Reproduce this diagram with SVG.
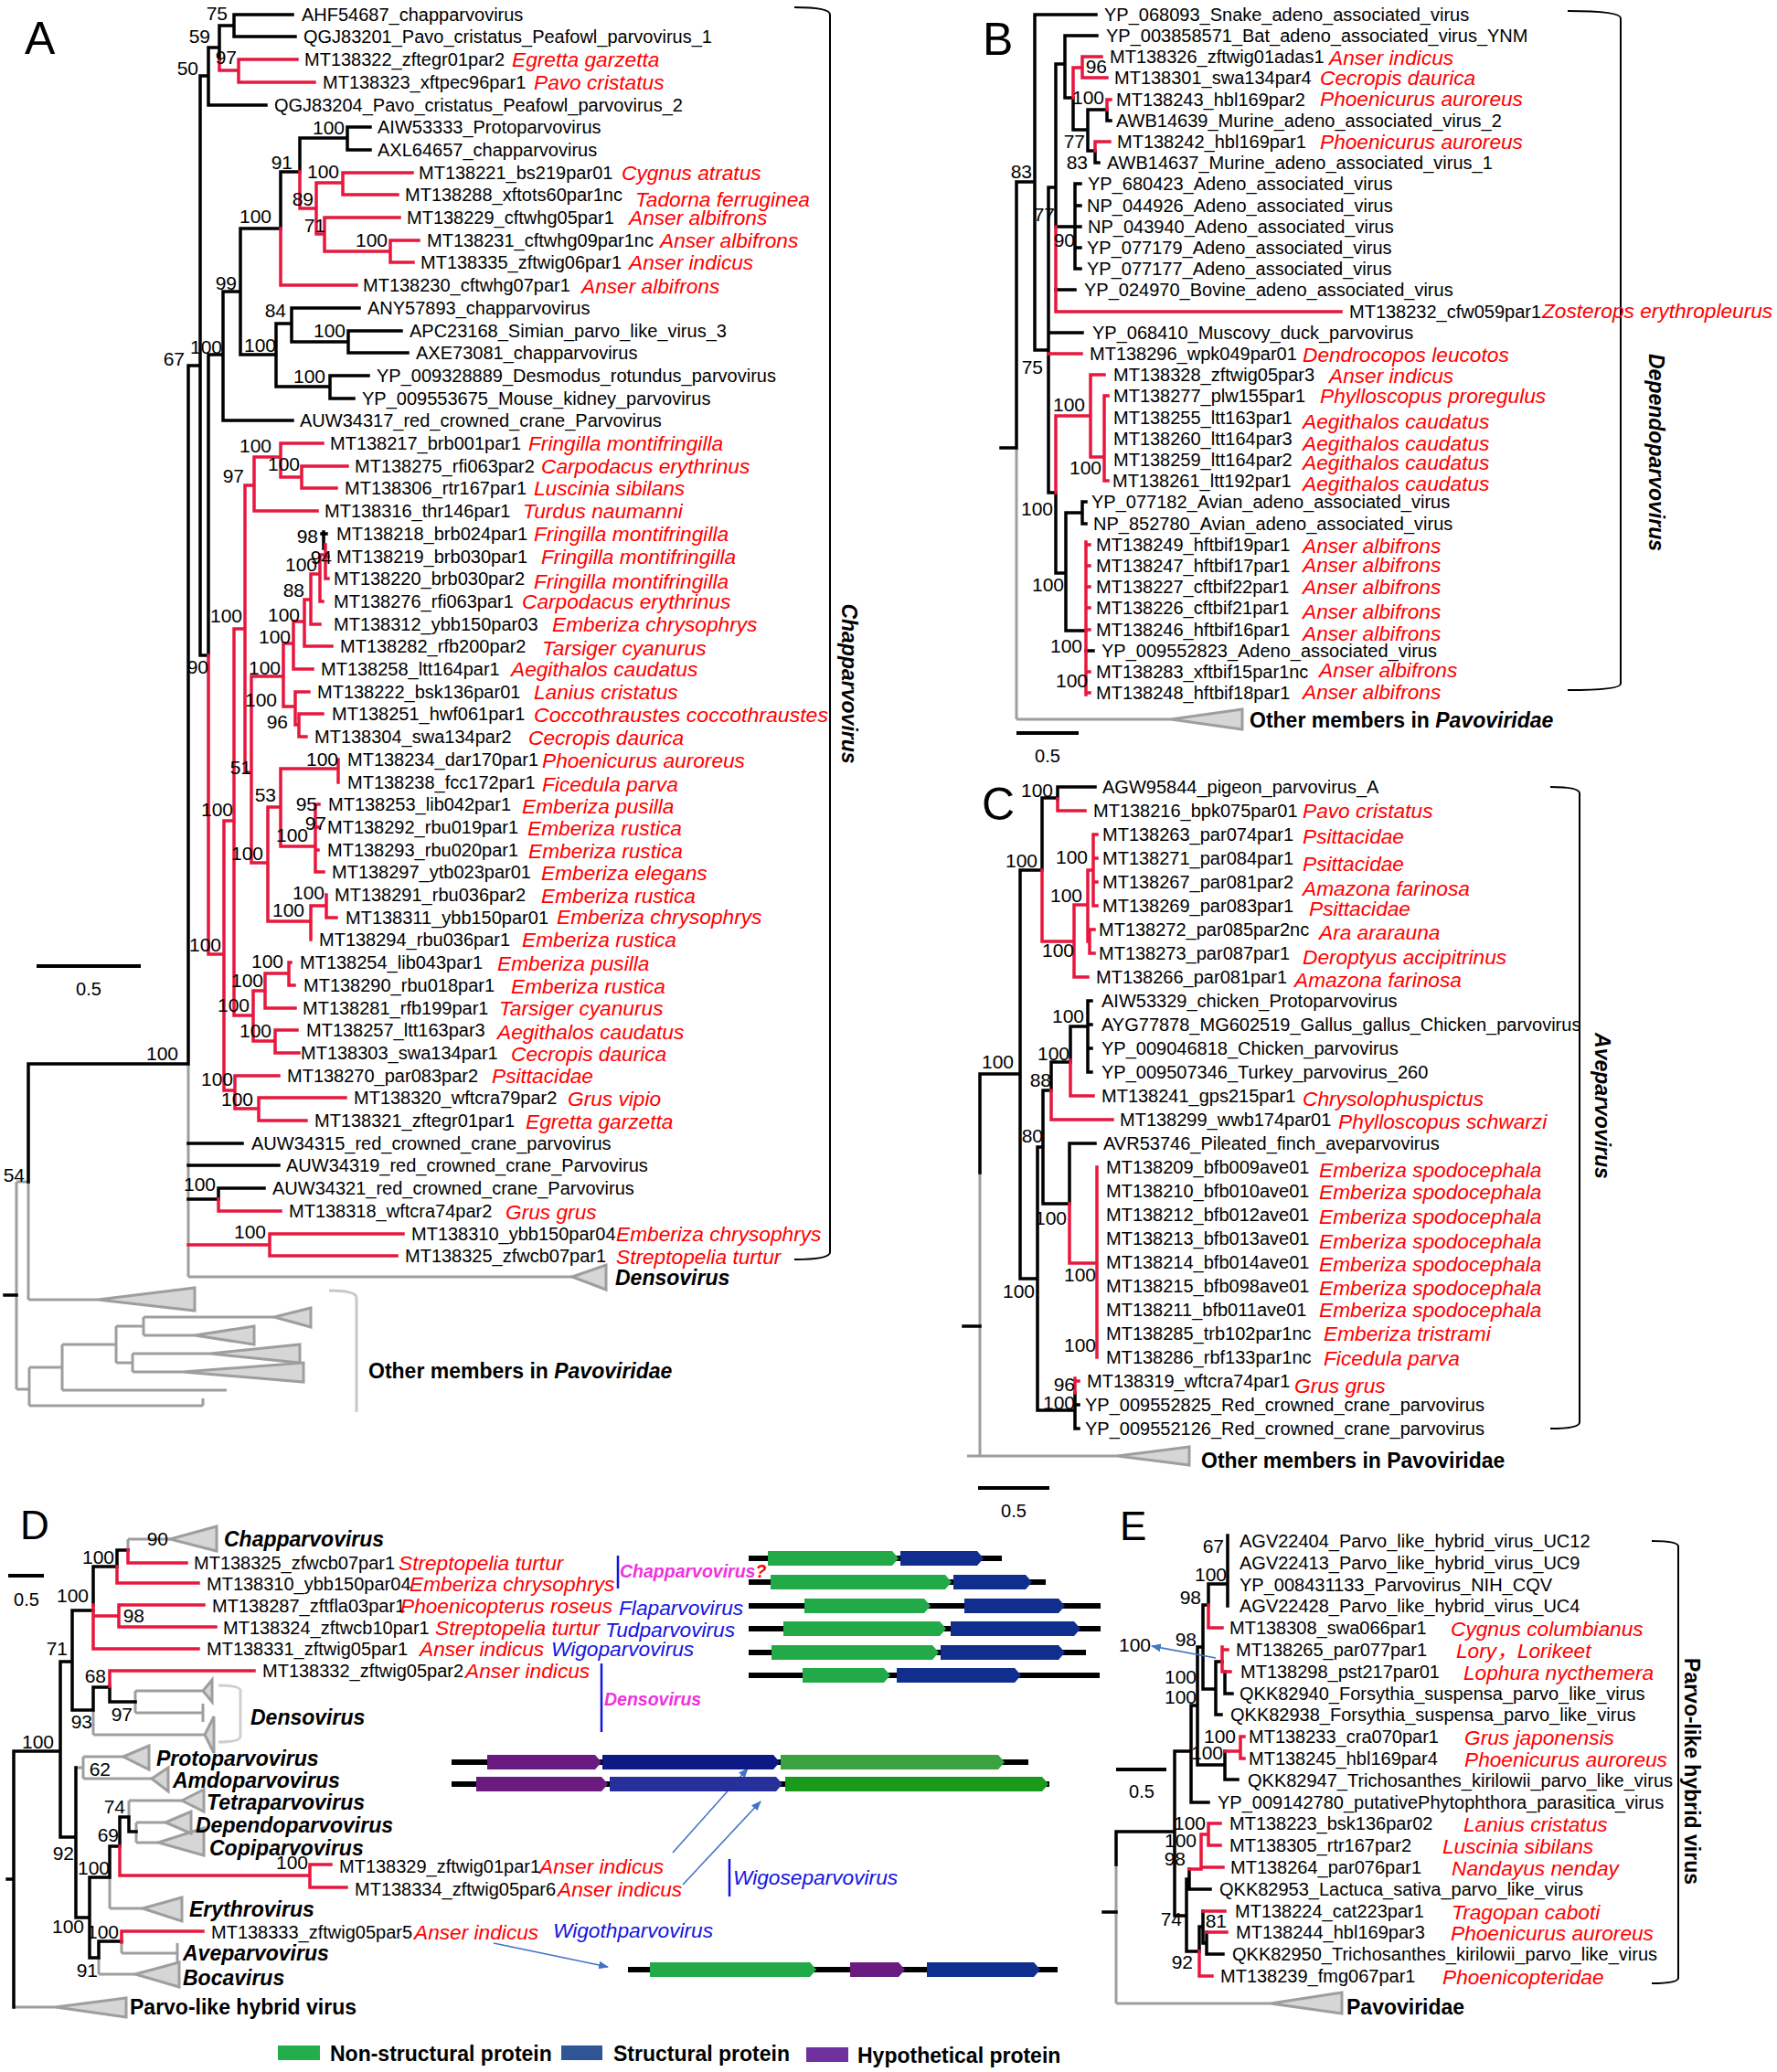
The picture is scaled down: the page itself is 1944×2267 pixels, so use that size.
<svg xmlns="http://www.w3.org/2000/svg" width="1944" height="2267" viewBox="0 0 1944 2267">
<defs>
<style>
text{font-family:'Liberation Sans',Arial,'Noto Sans CJK SC',sans-serif;font-size:20px;fill:#000}
.s{font-style:italic;font-size:22.7px;fill:#f00}
.n{font-size:21px;text-anchor:end}
.hb{font-weight:bold;font-size:23px}
.hi{font-weight:bold;font-style:italic;font-size:23px}
.pl{font-size:50px}
.pl2{font-size:44px}
.bl{font-style:italic;font-size:22.7px;fill:#1414e0}
.mg{font-weight:bold;font-style:italic;font-size:19.5px;fill:#ee33dd}
.sc{text-anchor:middle}
.k{stroke:#000;stroke-width:3.5;fill:none;stroke-linecap:square}
.r{stroke:#e8173e;stroke-width:3.5;fill:none;stroke-linecap:square}
.g{stroke:#9e9e9e;stroke-width:3;fill:none}
.t{fill:#d6d6d6;stroke:#9e9e9e;stroke-width:3}
.br{stroke:#000;stroke-width:2;fill:none}
.gl{stroke:#000;stroke-width:6;fill:none}
.gn{fill:#22aa48}
.bu{fill:#0f2e8e}
.pu{fill:#6b1a80}
.ar{stroke:#4472c4;stroke-width:1.6;fill:none;marker-end:url(#ah)}
.vb{stroke:#1414e0;stroke-width:2.5;fill:none}
</style>
<marker id="ah" viewBox="0 0 10 10" refX="9" refY="5" markerWidth="11" markerHeight="11" markerUnits="userSpaceOnUse" orient="auto"><path d="M0 1L10 5L0 9Z" fill="#4472c4"/></marker>
</defs>
<rect width="1944" height="2267" fill="#fff"/>

<!-- ================= PANEL A ================= -->
<g id="panel-A">
<text class="pl" x="27" y="59">A</text>
<g id="A-connectors">
<path class="g" d="M206 1164V1397M206 1397H626M31 1293V1422M18 1293H31M31 1422H107M18 1293V1520M18 1520H32M32 1496V1538M32 1496H68M68 1471V1521M68 1521H248M68 1471H127M127 1451V1491M127 1451H157M157 1441V1461M157 1441H300M157 1461H213M127 1491H145M145 1481V1501M145 1481H230M145 1501H200M32 1538H222M222 1530V1538"/>
<path class="t" d="M626 1397L663 1384L663 1411ZM107 1422L213 1409L213 1434ZM300 1441L340 1431L340 1452ZM213 1461L278 1451L278 1471ZM230 1481L328 1471L328 1491ZM200 1501L332 1491L332 1512Z"/>
<path class="k" d="M256 16H320M256 40H323M256 16V40M240 28H256M240 28V65M228 52H240M228 52V115M228 115H291M219 83H228M219 83V717M206 400H219M206 400V1164M31 1164H206M228 388V717M219 717H228M228 388H244M244 319V460M244 460H320M244 319H263M263 250V388M263 250H307M307 188V250M307 188H328M328 151V188M328 151H380M380 139V164M380 139H405M380 164H405M263 388H302M302 354V423M302 354H319M319 337V374M319 337H393M319 374H381M381 362V386M381 362H439M381 386H446M302 423H361M361 411V436M361 411H403M361 436H387M206 1251H265M206 1275H305M206 1312H239M239 1300V1312M239 1300H289M31 1164V1293M5 1417H18M354 582V600M352 584H357"/>
<path class="r" d="M240 65V77M240 77H261M261 65V90M261 65H325M261 90H344M307 250V312M307 312H390M328 188V228M328 228H346M346 200V256M346 200H375M375 189V213M375 189H451M375 213H435M346 256H355M355 238V275M355 238H437M355 275H427M427 263V287M427 263H458M427 287H452M228 717V1044M228 1044H245M245 898V1193M245 898H256M256 688V1111M256 688H268M268 531V845M268 531H278M278 500V559M278 500H307M307 485V522M307 485H353M307 522H330M330 510V534M330 510H380M330 534H368M278 559H347M268 845H275M275 740V944M275 740H310M310 704V773M310 704H321M321 680V732M321 732H342M321 680H333M333 656V707M333 707H363M333 656H340M340 628V683M340 683H350M340 628H350M350 607V658M350 658H353M350 607H356M356 596V633M356 609H359M356 633H359M310 773H323M323 757V793M323 757H338M323 793H327M327 781V806M327 781H353M327 806H335M275 944H293M293 883V1008M293 883H307M307 841V926M307 841H370M370 831V856M307 926H345M345 880V954M345 880H349M345 905H348M345 930H348M345 954H354M293 1008H340M340 991V1028M340 991H357M357 979V1004M357 1004H368M256 1111H277M277 1084V1139M277 1084H290M290 1065V1103M290 1103H323M290 1065H316M316 1053V1078M316 1053H318M316 1078H322M277 1139H301M301 1127V1152M301 1127H325M301 1152H327M245 1193H257M257 1177V1213M257 1177H305M257 1213H283M283 1201V1226M283 1201H378M283 1226H335M239 1312V1325M239 1325H307M206 1362H295M295 1350V1374M295 1350H441M295 1374H434"/>
<path class="br" d="M869 8Q908 8 908 16V1370Q908 1378 869 1378"/>
<path d="M360 1412Q390 1412 390 1420V1545" stroke="#c8c8c8" stroke-width="3" fill="none"/>
<path d="M40 1057H154" stroke="#000" stroke-width="4"/>
</g>
<text class="sc" x="97" y="1089">0.5</text>
<g id="A-support">
<text class="n" x="249" y="22">75</text><text class="n" x="230" y="47">59</text><text class="n" x="259" y="70">97</text><text class="n" x="217" y="82">50</text>
<text class="n" x="377" y="147">100</text><text class="n" x="320" y="185">91</text><text class="n" x="371" y="195">100</text><text class="n" x="343" y="225">89</text>
<text class="n" x="297" y="244">100</text><text class="n" x="356" y="254">71</text><text class="n" x="424" y="270">100</text><text class="n" x="259" y="317">99</text>
<text class="n" x="313" y="347">84</text><text class="n" x="378" y="369">100</text><text class="n" x="243" y="387">100</text><text class="n" x="302" y="385">100</text>
<text class="n" x="202" y="400">67</text><text class="n" x="356" y="419">100</text>
<text class="n" x="297" y="495">100</text><text class="n" x="328" y="515">100</text><text class="n" x="267" y="528">97</text><text class="n" x="348" y="594">98</text>
<text class="n" x="363" y="617">94</text><text class="n" x="347" y="625">100</text><text class="n" x="333" y="653">88</text><text class="n" x="328" y="680">100</text>
<text class="n" x="265" y="681">100</text><text class="n" x="318" y="704">100</text><text class="n" x="307" y="738">100</text><text class="n" x="228" y="737">90</text>
<text class="n" x="303" y="773">100</text><text class="n" x="315" y="797">96</text><text class="n" x="370" y="838">100</text><text class="n" x="275" y="847">51</text>
<text class="n" x="302" y="877">53</text><text class="n" x="347" y="887">95</text><text class="n" x="357" y="908">97</text><text class="n" x="255" y="893">100</text>
<text class="n" x="337" y="921">100</text><text class="n" x="288" y="941">100</text><text class="n" x="355" y="984">100</text><text class="n" x="333" y="1003">100</text>
<text class="n" x="242" y="1041">100</text><text class="n" x="310" y="1059">100</text><text class="n" x="288" y="1080">100</text><text class="n" x="273" y="1107">100</text>
<text class="n" x="297" y="1135">100</text><text class="n" x="195" y="1160">100</text><text class="n" x="255" y="1188">100</text><text class="n" x="277" y="1210">100</text>
<text class="n" x="236" y="1303">100</text><text class="n" x="291" y="1355">100</text><text class="n" x="27" y="1293">54</text>
</g>
<g id="A-leaves">
<g id="A0"><text x="330" y="23">AHF54687_chapparvovirus</text></g>
<g id="A1"><text x="332" y="47">QGJ83201_Pavo_cristatus_Peafowl_parvovirus_1</text></g>
<g id="A2"><text x="333" y="72">MT138322_zftegr01par2</text><text class="s" x="560" y="73">Egretta garzetta</text></g>
<g id="A3"><text x="353" y="97">MT138323_xftpec96par1</text><text class="s" x="584" y="98">Pavo cristatus</text></g>
<g id="A4"><text x="300" y="122">QGJ83204_Pavo_cristatus_Peafowl_parvovirus_2</text></g>
<g id="A5"><text x="413" y="146">AIW53333_Protoparvovirus</text></g>
<g id="A6"><text x="413" y="171">AXL64657_chapparvovirus</text></g>
<g id="A7"><text x="458" y="196">MT138221_bs219par01</text><text class="s" x="680" y="197">Cygnus atratus</text></g>
<g id="A8"><text x="443" y="220">MT138288_xftots60par1nc</text><text class="s" x="695" y="226">Tadorna ferruginea</text></g>
<g id="A9"><text x="445" y="245">MT138229_cftwhg05par1</text><text class="s" x="688" y="246">Anser albifrons</text></g>
<g id="A10"><text x="467" y="270">MT138231_cftwhg09par1nc</text><text class="s" x="722" y="271">Anser albifrons</text></g>
<g id="A11"><text x="460" y="294">MT138335_zftwig06par1</text><text class="s" x="688" y="295">Anser indicus</text></g>
<g id="A12"><text x="397" y="319">MT138230_cftwhg07par1</text><text class="s" x="636" y="321">Anser albifrons</text></g>
<g id="A13"><text x="402" y="344">ANY57893_chapparvovirus</text></g>
<g id="A14"><text x="448" y="369">APC23168_Simian_parvo_like_virus_3</text></g>
<g id="A15"><text x="455" y="393">AXE73081_chapparvovirus</text></g>
<g id="A16"><text x="412" y="418">YP_009328889_Desmodus_rotundus_parvovirus</text></g>
<g id="A17"><text x="396" y="443">YP_009553675_Mouse_kidney_parvovirus</text></g>
<g id="A18"><text x="328" y="467">AUW34317_red_crowned_crane_Parvovirus</text></g>
<g id="A19"><text x="361" y="492">MT138217_brb001par1</text><text class="s" x="578" y="493">Fringilla montifringilla</text></g>
<g id="A20"><text x="388" y="517">MT138275_rfi063par2</text><text class="s" x="592" y="518">Carpodacus erythrinus</text></g>
<g id="A21"><text x="377" y="541">MT138306_rtr167par1</text><text class="s" x="584" y="542">Luscinia sibilans</text></g>
<g id="A22"><text x="355" y="566">MT138316_thr146par1</text><text class="s" x="572" y="567">Turdus naumanni</text></g>
<g id="A23"><text x="368" y="591">MT138218_brb024par1</text><text class="s" x="584" y="592">Fringilla montifringilla</text></g>
<g id="A24"><text x="368" y="616">MT138219_brb030par1</text><text class="s" x="592" y="617">Fringilla montifringilla</text></g>
<g id="A25"><text x="365" y="640">MT138220_brb030par2</text><text class="s" x="584" y="644">Fringilla montifringilla</text></g>
<g id="A26"><text x="365" y="665">MT138276_rfi063par1</text><text class="s" x="571" y="666">Carpodacus erythrinus</text></g>
<g id="A27"><text x="365" y="690">MT138312_ybb150par03</text><text class="s" x="604" y="691">Emberiza chrysophrys</text></g>
<g id="A28"><text x="372" y="714">MT138282_rfb200par2</text><text class="s" x="593" y="717">Tarsiger cyanurus</text></g>
<g id="A29"><text x="351" y="739">MT138258_ltt164par1</text><text class="s" x="559" y="740">Aegithalos caudatus</text></g>
<g id="A30"><text x="347" y="764">MT138222_bsk136par01</text><text class="s" x="584" y="765">Lanius cristatus</text></g>
<g id="A31"><text x="363" y="788">MT138251_hwf061par1</text><text class="s" x="584" y="790" textLength="322" lengthAdjust="spacingAndGlyphs">Coccothraustes coccothraustes</text></g>
<g id="A32"><text x="344" y="813">MT138304_swa134par2</text><text class="s" x="578" y="815">Cecropis daurica</text></g>
<g id="A33"><text x="380" y="838">MT138234_dar170par1</text><text class="s" x="593" y="840">Phoenicurus auroreus</text></g>
<g id="A34"><text x="380" y="863">MT138238_fcc172par1</text><text class="s" x="593" y="866">Ficedula parva</text></g>
<g id="A35"><text x="359" y="887">MT138253_lib042par1</text><text class="s" x="571" y="890">Emberiza pusilla</text></g>
<g id="A36"><text x="358" y="912">MT138292_rbu019par1</text><text class="s" x="577" y="914">Emberiza rustica</text></g>
<g id="A37"><text x="358" y="937">MT138293_rbu020par1</text><text class="s" x="578" y="939">Emberiza rustica</text></g>
<g id="A38"><text x="363" y="961">MT138297_ytb023par01</text><text class="s" x="592" y="963">Emberiza elegans</text></g>
<g id="A39"><text x="366" y="986">MT138291_rbu036par2</text><text class="s" x="592" y="988">Emberiza rustica</text></g>
<g id="A40"><text x="378" y="1011">MT138311_ybb150par01</text><text class="s" x="609" y="1011">Emberiza chrysophrys</text></g>
<g id="A41"><text x="349" y="1035">MT138294_rbu036par1</text><text class="s" x="571" y="1036">Emberiza rustica</text></g>
<g id="A42"><text x="328" y="1060">MT138254_lib043par1</text><text class="s" x="544" y="1062">Emberiza pusilla</text></g>
<g id="A43"><text x="332" y="1085">MT138290_rbu018par1</text><text class="s" x="559" y="1087">Emberiza rustica</text></g>
<g id="A44"><text x="331" y="1110">MT138281_rfb199par1</text><text class="s" x="546" y="1111">Tarsiger cyanurus</text></g>
<g id="A45"><text x="335" y="1134">MT138257_ltt163par3</text><text class="s" x="544" y="1137">Aegithalos caudatus</text></g>
<g id="A46"><text x="329" y="1159">MT138303_swa134par1</text><text class="s" x="559" y="1161">Cecropis daurica</text></g>
<g id="A47"><text x="314" y="1184">MT138270_par083par2</text><text class="s" x="538" y="1185">Psittacidae</text></g>
<g id="A48"><text x="387" y="1208">MT138320_wftcra79par2</text><text class="s" x="621" y="1210">Grus vipio</text></g>
<g id="A49"><text x="344" y="1233">MT138321_zftegr01par1</text><text class="s" x="575" y="1235">Egretta garzetta</text></g>
<g id="A50"><text x="275" y="1258">AUW34315_red_crowned_crane_parvovirus</text></g>
<g id="A51"><text x="313" y="1282">AUW34319_red_crowned_crane_Parvovirus</text></g>
<g id="A52"><text x="298" y="1307">AUW34321_red_crowned_crane_Parvovirus</text></g>
<g id="A53"><text x="316" y="1332">MT138318_wftcra74par2</text><text class="s" x="553" y="1334">Grus grus</text></g>
<g id="A54"><text x="450" y="1357">MT138310_ybb150par04</text><text class="s" x="674" y="1358">Emberiza chrysophrys</text></g>
<g id="A55"><text x="443" y="1381">MT138325_zfwcb07par1</text><text class="s" x="674" y="1383">Streptopelia turtur</text></g>
<g id="A-denso"><text class="hi" x="673" y="1406">Densovirus</text></g>
<g id="A-other"><text class="hb" x="403" y="1508">Other members in <tspan font-style="italic">Pavoviridae</tspan></text></g>
<g id="A-clade"><text class="hi sc" transform="translate(921,748) rotate(90)">Chapparvovirus</text></g>
</g>
</g>

<!-- ================= PANEL B ================= -->
<g id="panel-B">
<text class="pl" x="1075" y="60">B</text>
<g id="B-connectors">
<path class="g" d="M1112 490V787M1112 787H1281"/>
<path class="t" d="M1281 787L1359 776L1359 798Z"/>
<path class="k" d="M1095 490H1112M1112 199V490M1112 199H1132M1132 16V383M1132 16H1199M1132 383H1147M1147 205V539M1147 205H1155M1155 70V248M1155 70H1165M1165 39V107M1165 39H1200M1165 107H1174M1174 107V142M1174 142H1190M1190 120V165M1190 120H1211M1211 120V132M1211 132H1215M1190 165H1198M1198 165V178M1198 178H1202M1155 248H1176M1176 201V294M1176 201H1182M1176 225H1182M1176 248H1182M1176 271H1182M1176 294H1182M1155 317H1176M1147 364H1184M1147 539H1155M1155 539V627M1155 627H1166M1166 561V690M1166 561H1184M1184 549V573M1184 549H1188M1184 573H1188M1166 690H1188M1188 712H1196"/>
<path class="r" d="M1155 248V341M1155 341H1467M1174 74V107M1174 74H1184M1184 62V85M1184 62H1205M1184 85H1211M1211 109V120M1211 109H1215M1198 155V165M1198 155H1214M1147 387H1183M1155 455V539M1155 455H1193M1193 410V500M1193 410H1208M1193 500H1208M1208 433V526M1208 433H1212M1208 526H1212M1188 593V760M1188 596H1192M1188 619H1192M1188 642H1192M1188 665H1192M1188 689H1192M1188 735H1192M1188 758H1192"/>
<path class="br" d="M1715 12Q1773 12 1773 20V748Q1773 755 1715 755"/>
<path d="M1112 802H1180" stroke="#000" stroke-width="4"/>
</g>
<text class="sc" x="1146" y="834">0.5</text>
<g id="B-support">
<text class="n" x="1129" y="195">83</text><text class="n" x="1211" y="80">96</text><text class="n" x="1208" y="114">100</text><text class="n" x="1187" y="162">77</text>
<text class="n" x="1190" y="185">83</text><text class="n" x="1154" y="242">77</text><text class="n" x="1176" y="270">90</text><text class="n" x="1141" y="409">75</text>
<text class="n" x="1187" y="450">100</text><text class="n" x="1205" y="519">100</text><text class="n" x="1152" y="564">100</text><text class="n" x="1164" y="647">100</text>
<text class="n" x="1184" y="714">100</text><text class="n" x="1190" y="752">100</text>
</g>
<g id="B-leaves">
<g id="B0"><text x="1208" y="23">YP_068093_Snake_adeno_associated_virus</text></g>
<g id="B1"><text x="1210" y="46">YP_003858571_Bat_adeno_associated_virus_YNM</text></g>
<g id="B2"><text x="1214" y="69">MT138326_zftwig01adas1</text><text class="s" x="1454" y="71">Anser indicus</text></g>
<g id="B3"><text x="1219" y="92">MT138301_swa134par4</text><text class="s" x="1444" y="93">Cecropis daurica</text></g>
<g id="B4"><text x="1221" y="116">MT138243_hbl169par2</text><text class="s" x="1444" y="116">Phoenicurus auroreus</text></g>
<g id="B5"><text x="1221" y="139">AWB14639_Murine_adeno_associated_virus_2</text></g>
<g id="B6"><text x="1222" y="162">MT138242_hbl169par1</text><text class="s" x="1444" y="163">Phoenicurus auroreus</text></g>
<g id="B7"><text x="1211" y="185">AWB14637_Murine_adeno_associated_virus_1</text></g>
<g id="B8"><text x="1190" y="208">YP_680423_Adeno_associated_virus</text></g>
<g id="B9"><text x="1189" y="232">NP_044926_Adeno_associated_virus</text></g>
<g id="B10"><text x="1190" y="255">NP_043940_Adeno_associated_virus</text></g>
<g id="B11"><text x="1189" y="278">YP_077179_Adeno_associated_virus</text></g>
<g id="B12"><text x="1189" y="301">YP_077177_Adeno_associated_virus</text></g>
<g id="B13"><text x="1186" y="324">YP_024970_Bovine_adeno_associated_virus</text></g>
<g id="B14"><text x="1476" y="348">MT138232_cfw059par1</text><text class="s" x="1687" y="348">Zosterops erythropleurus</text></g>
<g id="B15"><text x="1195" y="371">YP_068410_Muscovy_duck_parvovirus</text></g>
<g id="B16"><text x="1192" y="394">MT138296_wpk049par01</text><text class="s" x="1425" y="396">Dendrocopos leucotos</text></g>
<g id="B17"><text x="1218" y="417">MT138328_zftwig05par3</text><text class="s" x="1454" y="419">Anser indicus</text></g>
<g id="B18"><text x="1218" y="440">MT138277_plw155par1</text><text class="s" x="1444" y="441">Phylloscopus proregulus</text></g>
<g id="B19"><text x="1218" y="464">MT138255_ltt163par1</text><text class="s" x="1425" y="469">Aegithalos caudatus</text></g>
<g id="B20"><text x="1218" y="487">MT138260_ltt164par3</text><text class="s" x="1425" y="493">Aegithalos caudatus</text></g>
<g id="B21"><text x="1218" y="510">MT138259_ltt164par2</text><text class="s" x="1425" y="514">Aegithalos caudatus</text></g>
<g id="B22"><text x="1217" y="533">MT138261_ltt192par1</text><text class="s" x="1425" y="537">Aegithalos caudatus</text></g>
<g id="B23"><text x="1194" y="556">YP_077182_Avian_adeno_associated_virus</text></g>
<g id="B24"><text x="1196" y="580">NP_852780_Avian_adeno_associated_virus</text></g>
<g id="B25"><text x="1199" y="603">MT138249_hftbif19par1</text><text class="s" x="1425" y="605">Anser albifrons</text></g>
<g id="B26"><text x="1199" y="626">MT138247_hftbif17par1</text><text class="s" x="1425" y="626">Anser albifrons</text></g>
<g id="B27"><text x="1199" y="649">MT138227_cftbif22par1</text><text class="s" x="1425" y="650">Anser albifrons</text></g>
<g id="B28"><text x="1199" y="672">MT138226_cftbif21par1</text><text class="s" x="1425" y="677">Anser albifrons</text></g>
<g id="B29"><text x="1199" y="696">MT138246_hftbif16par1</text><text class="s" x="1425" y="701">Anser albifrons</text></g>
<g id="B30"><text x="1205" y="719">YP_009552823_Adeno_associated_virus</text></g>
<g id="B31"><text x="1199" y="742">MT138283_xftbif15par1nc</text><text class="s" x="1443" y="741">Anser albifrons</text></g>
<g id="B32"><text x="1199" y="765">MT138248_hftbif18par1</text><text class="s" x="1425" y="765">Anser albifrons</text></g>
<g id="B-other"><text class="hb" x="1367" y="796">Other members in <tspan font-style="italic">Pavoviridae</tspan></text></g>
<g id="B-clade"><text class="hi sc" transform="translate(1804,495) rotate(90)">Dependoparvovirus</text></g>
</g>
</g>

<!-- ================= PANEL C ================= -->
<g id="panel-C">
<text class="pl" x="1074" y="897">C</text>
<g id="C-connectors">
<path class="g" d="M1072 1283V1593M1058 1593H1222"/>
<path class="t" d="M1222 1593L1301 1583L1301 1603Z"/>
<path class="k" d="M1054 1451H1072M1072 1175V1283M1072 1175H1116M1116 952V1399M1116 952H1140M1140 873V952M1140 873H1157M1157 861V874M1157 861H1198M1116 1399H1135M1135 1255V1543M1135 1255H1141M1141 1193V1317M1141 1193H1150M1150 1162V1193M1150 1162H1171M1171 1123V1160M1171 1123H1190M1190 1095V1173M1190 1095H1194M1190 1121H1194M1190 1147H1194M1190 1173H1194M1141 1317H1170M1170 1251V1317M1170 1251H1198M1135 1543H1176M1176 1524V1563M1176 1537H1180M1176 1563H1180"/>
<path class="r" d="M1140 952V1030M1157 874V887M1157 887H1187M1140 1030H1175M1175 990V1069M1175 1069H1190M1175 990H1190M1190 952V1030M1190 952H1196M1196 913V991M1196 913H1200M1196 939H1200M1196 965H1200M1196 991H1200M1190 1030H1192M1192 1017V1043M1192 1017H1197M1192 1043H1197M1150 1193V1225M1150 1225H1217M1171 1160V1199M1171 1199H1196M1170 1317V1382M1170 1382H1200M1200 1277V1485M1176 1508V1524M1176 1511H1180"/>
<path class="br" d="M1696 861Q1728 861 1728 868V1556Q1728 1563 1696 1563"/>
<path d="M1070 1628H1148" stroke="#000" stroke-width="4"/>
</g>
<text class="sc" x="1109" y="1660">0.5</text>
<g id="C-support">
<text class="n" x="1109" y="1169">100</text><text class="n" x="1135" y="949">100</text><text class="n" x="1152" y="872">100</text><text class="n" x="1175" y="1047">100</text>
<text class="n" x="1184" y="987">100</text><text class="n" x="1190" y="945">100</text><text class="n" x="1186" y="1119">100</text><text class="n" x="1170" y="1160">100</text>
<text class="n" x="1150" y="1189">88</text><text class="n" x="1141" y="1250">80</text><text class="n" x="1167" y="1340">100</text><text class="n" x="1132" y="1420">100</text>
<text class="n" x="1199" y="1402">100</text><text class="n" x="1199" y="1479">100</text><text class="n" x="1176" y="1522">96</text><text class="n" x="1176" y="1542">100</text>
</g>
<g id="C-leaves">
<g id="C0"><text x="1206" y="868">AGW95844_pigeon_parvovirus_A</text></g>
<g id="C1"><text x="1196" y="894">MT138216_bpk075par01</text><text class="s" x="1425" y="895">Pavo cristatus</text></g>
<g id="C2"><text x="1206" y="920">MT138263_par074par1</text><text class="s" x="1425" y="923">Psittacidae</text></g>
<g id="C3"><text x="1206" y="946">MT138271_par084par1</text><text class="s" x="1425" y="953">Psittacidae</text></g>
<g id="C4"><text x="1206" y="972">MT138267_par081par2</text><text class="s" x="1425" y="980">Amazona farinosa</text></g>
<g id="C5"><text x="1206" y="998">MT138269_par083par1</text><text class="s" x="1432" y="1002">Psittacidae</text></g>
<g id="C6"><text x="1202" y="1024">MT138272_par085par2nc</text><text class="s" x="1443" y="1028">Ara ararauna</text></g>
<g id="C7"><text x="1202" y="1050">MT138273_par087par1</text><text class="s" x="1425" y="1055">Deroptyus accipitrinus</text></g>
<g id="C8"><text x="1199" y="1076">MT138266_par081par1</text><text class="s" x="1416" y="1080">Amazona farinosa</text></g>
<g id="C9"><text x="1205" y="1102">AIW53329_chicken_Protoparvovirus</text></g>
<g id="C10"><text x="1205" y="1128">AYG77878_MG602519_Gallus_gallus_Chicken_parvovirus</text></g>
<g id="C11"><text x="1205" y="1154">YP_009046818_Chicken_parvovirus</text></g>
<g id="C12"><text x="1205" y="1180">YP_009507346_Turkey_parvovirus_260</text></g>
<g id="C13"><text x="1205" y="1206">MT138241_gps215par1</text><text class="s" x="1425" y="1210">Chrysolophuspictus</text></g>
<g id="C14"><text x="1225" y="1232">MT138299_wwb174par01</text><text class="s" x="1464" y="1235">Phylloscopus schwarzi</text></g>
<g id="C15"><text x="1207" y="1258">AVR53746_Pileated_finch_aveparvovirus</text></g>
<g id="C16"><text x="1210" y="1284">MT138209_bfb009ave01</text><text class="s" x="1443" y="1288">Emberiza spodocephala</text></g>
<g id="C17"><text x="1210" y="1310">MT138210_bfb010ave01</text><text class="s" x="1443" y="1312">Emberiza spodocephala</text></g>
<g id="C18"><text x="1210" y="1336">MT138212_bfb012ave01</text><text class="s" x="1443" y="1339">Emberiza spodocephala</text></g>
<g id="C19"><text x="1210" y="1362">MT138213_bfb013ave01</text><text class="s" x="1443" y="1366">Emberiza spodocephala</text></g>
<g id="C20"><text x="1210" y="1388">MT138214_bfb014ave01</text><text class="s" x="1443" y="1391">Emberiza spodocephala</text></g>
<g id="C21"><text x="1210" y="1414">MT138215_bfb098ave01</text><text class="s" x="1443" y="1417">Emberiza spodocephala</text></g>
<g id="C22"><text x="1210" y="1440">MT138211_bfb011ave01</text><text class="s" x="1443" y="1441">Emberiza spodocephala</text></g>
<g id="C23"><text x="1210" y="1466">MT138285_trb102par1nc</text><text class="s" x="1448" y="1467">Emberiza tristrami</text></g>
<g id="C24"><text x="1210" y="1492">MT138286_rbf133par1nc</text><text class="s" x="1448" y="1494">Ficedula parva</text></g>
<g id="C25"><text x="1189" y="1518">MT138319_wftcra74par1</text><text class="s" x="1416" y="1524">Grus grus</text></g>
<g id="C26"><text x="1187" y="1544">YP_009552825_Red_crowned_crane_parvovirus</text></g>
<g id="C27"><text x="1187" y="1570">YP_009552126_Red_crowned_crane_parvovirus</text></g>
<g id="C-other"><text class="hb" x="1314" y="1606">Other members in Pavoviridae</text></g>
<g id="C-clade"><text class="hi sc" transform="translate(1745,1210) rotate(90)">Aveparvovirus</text></g>
</g>
</g>

<!-- ================= PANEL D ================= -->
<g id="panel-D">
<text class="pl2" x="22" y="1684">D</text>
<g id="D-connectors">
<path class="g" d="M140 1684V1696M140 1684H186M102 1871V1898M148 1850V1874M148 1850H222M148 1874H222M222 1864V1884M102 1898H224M83 1934H91M91 1922V1946M91 1922H135M91 1946H166M120 2054V2088M120 2088H156M141 1970V1988M141 1970H199M149 1994V2016M149 1994H181M149 2016H173M108 2142V2160M133 2125V2137M133 2137H194M194 2126V2148M108 2160H148M15 2196H61"/>
<path class="t" d="M186 1684L237 1670L237 1697ZM222 1850L232 1838L232 1862ZM224 1898L234 1878L234 1918ZM135 1922L163 1910L163 1936ZM166 1946L184 1934L184 1960ZM156 2088L199 2076L199 2102ZM199 1970L223 1958L223 1982ZM181 1994L209 1982L209 2006ZM173 2016L223 2000L223 2030ZM148 2160L196 2147L196 2174ZM61 2196L138 2186L138 2207Z"/>
<path d="M239 1844Q263 1844 263 1850V1900Q263 1906 239 1906" stroke="#cfcfcf" stroke-width="3" fill="none"/>
<path class="k" d="M8 2056H15M15 1916V2196M15 1916H66M66 1818V2010M66 1818H79M79 1762V1871M79 1762H102M102 1714V1756M102 1714H128M128 1696V1714M128 1696H140M79 1871H102M102 1846V1871M102 1846H120M120 1845V1862M120 1862H148M66 2010H83M83 1934V2098M83 2098H98M98 2054V2142M98 2054H120M120 2020V2054M120 2020H131M131 1988V2020M131 1988H141M141 1988V2004M141 2004H149M98 2142H108M108 2124V2142M108 2124H133"/>
<path class="r" d="M140 1696V1710M140 1710H204M128 1714V1732M128 1732H217M102 1756V1804M102 1768H130M130 1756V1780M130 1756H223M130 1780H236M102 1804H217M120 1828V1845M120 1828H278M131 2020V2052M131 2052H339M339 2040V2065M339 2040H362M339 2065H379M133 2113V2125M133 2113H222"/>
<path d="M9 1724H48" stroke="#000" stroke-width="4"/>
<path class="vb" d="M676 1702V1738M658 1820V1895M798 2034V2075"/>
<path class="ar" d="M736 2027L818 1935"/>
<path class="ar" d="M747 2062L832 1971"/>
<path class="ar" d="M540 2126L665 2152"/>
</g>
<text class="sc" x="29" y="1757">0.5</text>
<g id="D-support">
<text class="n" x="184" y="1691">90</text><text class="n" x="125" y="1711">100</text><text class="n" x="97" y="1753">100</text><text class="n" x="158" y="1775">98</text>
<text class="n" x="74" y="1811">71</text><text class="n" x="116" y="1841">68</text><text class="n" x="101" y="1891">93</text><text class="n" x="145" y="1883">97</text>
<text class="n" x="59" y="1913">100</text><text class="n" x="121" y="1943">62</text><text class="n" x="137" y="1984">74</text><text class="n" x="130" y="2015">69</text>
<text class="n" x="81" y="2035">92</text><text class="n" x="120" y="2051">100</text><text class="n" x="337" y="2045">100</text><text class="n" x="92" y="2115">100</text>
<text class="n" x="130" y="2121">100</text><text class="n" x="107" y="2163">91</text>
</g>
<g id="D-nodes">
<g id="D-chap"><text class="hi" x="245" y="1692">Chapparvovirus</text></g>
<g id="D1"><text x="212" y="1717">MT138325_zfwcb07par1</text><text class="s" x="436" y="1718">Streptopelia turtur</text></g>
<g id="D2"><text x="226" y="1740">MT138310_ybb150par04</text><text class="s" x="448" y="1741">Emberiza chrysophrys</text></g>
<g id="D3"><text x="232" y="1764">MT138287_zftfla03par1</text><text class="s" x="438" y="1765">Phoenicopterus roseus</text><text class="bl" x="677" y="1767">Flaparvovirus</text></g>
<g id="D4"><text x="244" y="1788">MT138324_zftwcb10par1</text><text class="s" x="476" y="1789">Streptopelia turtur</text><text class="bl" x="662" y="1791">Tudparvovirus</text></g>
<g id="D5"><text x="226" y="1811">MT138331_zftwig05par1</text><text class="s" x="459" y="1812">Anser indicus</text><text class="bl" x="603" y="1812">Wigoparvovirus</text></g>
<g id="D6"><text x="287" y="1835">MT138332_zftwig05par2</text><text class="s" x="509" y="1836">Anser indicus</text></g>
<g id="D-denso"><text class="hi" x="274" y="1887">Densovirus</text></g>
<g id="D-proto"><text class="hi" x="171" y="1932">Protoparvovirus</text></g>
<g id="D-amdo"><text class="hi" x="189" y="1956">Amdoparvovirus</text></g>
<g id="D-tetra"><text class="hi" x="226" y="1980">Tetraparvovirus</text></g>
<g id="D-dep"><text class="hi" x="214" y="2005">Dependoparvovirus</text></g>
<g id="D-copi"><text class="hi" x="229" y="2030">Copiparvovirus</text></g>
<g id="D7"><text x="371" y="2049">MT138329_zftwig01par1</text><text class="s" x="590" y="2050">Anser indicus</text></g>
<g id="D8"><text x="388" y="2074">MT138334_zftwig05par6</text><text class="s" x="610" y="2075">Anser indicus</text></g>
<g id="D-ery"><text class="hi" x="207" y="2097">Erythrovirus</text></g>
<g id="D9"><text x="231" y="2121">MT138333_zftwig05par5</text><text class="s" x="453" y="2122">Anser indicus</text><text class="bl" x="605" y="2120">Wigothparvovirus</text></g>
<g id="D-ave"><text class="hi" x="200" y="2145">Aveparvovirus</text></g>
<g id="D-boca"><text class="hi" x="200" y="2172">Bocavirus</text></g>
<g id="D-plhv"><text class="hb" x="142" y="2204">Parvo-like hybrid virus</text></g>
<g id="D-ann">
<text class="mg" x="678" y="1726">Chapparvovirus<tspan fill="#f00">?</tspan></text>
<text class="mg" x="661" y="1866">Densovirus</text>
<text class="bl" x="802" y="2062">Wigoseparvovirus</text>
</g>
</g>
<g id="D-genomes">
<path class="gl" d="M819 1705H1096M819 1731H1144M819 1757H1204M819 1782H1204M819 1808H1188M819 1833H1203M494 1928H1125M494 1952H1148M687 2155H1157"/>
<polygon class="gn" points="840,1697 976,1697 983,1705 976,1713 840,1713"/>
<polygon class="bu" points="985,1697 1069,1697 1076,1705 1069,1713 985,1713"/>
<polygon class="gn" points="843,1723 1034,1723 1041,1731 1034,1739 843,1739"/>
<polygon class="bu" points="1043,1723 1122,1723 1129,1731 1122,1739 1043,1739"/>
<polygon class="gn" points="880,1749 1011,1749 1018,1757 1011,1765 880,1765"/>
<polygon class="bu" points="1055,1749 1158,1749 1165,1757 1158,1765 1055,1765"/>
<polygon class="gn" points="857,1774 1028,1774 1035,1782 1028,1790 857,1790"/>
<polygon class="bu" points="1040,1774 1175,1774 1182,1782 1175,1790 1040,1790"/>
<polygon class="gn" points="844,1800 1020,1800 1027,1808 1020,1816 844,1816"/>
<polygon class="bu" points="1029,1800 1158,1800 1165,1808 1158,1816 1029,1816"/>
<polygon class="gn" points="878,1825 967,1825 974,1833 967,1841 878,1841"/>
<polygon class="bu" points="981,1825 1110,1825 1117,1833 1110,1841 981,1841"/>
<polygon class="pu" points="533,1920 651,1920 658,1928 651,1936 533,1936"/>
<polygon points="659,1920 846,1920 853,1928 846,1936 659,1936" fill="#0d1a85"/>
<polygon points="854,1920 1092,1920 1099,1928 1092,1936 854,1936" fill="#3aa23e"/>
<polygon class="pu" points="521,1944 658,1944 665,1952 658,1960 521,1960"/>
<polygon points="667,1944 849,1944 856,1952 849,1960 667,1960" fill="#25309a"/>
<polygon points="859,1944 1140,1944 1147,1952 1140,1960 859,1960" fill="#1a9a1a"/>
<polygon class="gn" points="711,2147 886,2147 893,2155 886,2163 711,2163"/>
<polygon class="pu" points="930,2147 983,2147 990,2155 983,2163 930,2163"/>
<polygon class="bu" points="1014,2147 1131,2147 1138,2155 1131,2163 1014,2163"/>
</g>
<g id="legend">
<rect x="304" y="2238" width="46" height="16" fill="#21ae4b"/>
<text class="hb" x="361" y="2255">Non-structural protein</text>
<rect x="614" y="2238" width="45" height="16" fill="#2f5597"/>
<text class="hb" x="671" y="2255">Structural protein</text>
<rect x="882" y="2240" width="46" height="16" fill="#7030a0"/>
<text class="hb" x="938" y="2257">Hypothetical protein</text>
</g>
</g>

<!-- ================= PANEL E ================= -->
<g id="panel-E">
<text class="pl2" x="1225" y="1685">E</text>
<g id="E-connectors">
<path class="g" d="M1221 2040V2192M1221 2192H1390"/>
<path class="t" d="M1390 2192L1468 2180L1468 2203Z"/>
<path class="k" d="M1343 1680V1757M1322 1733H1343M1322 1733V1756M1316 1756H1322M1316 1756V1848M1316 1848H1330M1330 1818V1876M1330 1876H1336M1330 1818H1337M1340 1829V1853M1340 1853H1348M1310 1802H1316M1310 1802V1931M1310 1931H1340M1340 1916V1947M1340 1947H1354M1303 1866H1310M1303 1866V1972M1303 1972H1322M1285 1916H1303M1285 1916V2096M1221 2004H1285M1221 2004V2040M1207 2092H1221M1285 2096H1298M1298 2056V2135M1298 2056H1301M1301 2045V2067M1301 2067H1324M1298 2135H1312M1312 2108V2135M1312 2108H1316M1316 2091V2126M1316 2126H1320M1320 2114V2138M1320 2138H1338"/>
<path class="r" d="M1322 1756V1781M1322 1781H1337M1337 1802V1829M1337 1805H1343M1337 1829H1346M1340 1916H1357M1357 1900V1924M1357 1900H1361M1357 1924H1361M1301 2045H1314M1314 2007V2043M1314 2043H1338M1314 2007H1322M1322 1995V2019M1322 1995H1335M1322 2019H1335M1312 2135V2162M1312 2162H1326M1316 2091H1340M1320 2114H1342"/>
<path class="br" d="M1807 1686Q1836 1686 1836 1692V2164Q1836 2170 1807 2170"/>
<path d="M1221 1936H1276" stroke="#000" stroke-width="4"/>
<path class="ar" d="M1330 1814L1260 1801"/>
</g>
<text class="sc" x="1249" y="1967">0.5</text>
<g id="E-support">
<text class="n" x="1339" y="1699">67</text><text class="n" x="1342" y="1730">100</text><text class="n" x="1314" y="1755">98</text><text class="n" x="1309" y="1801">98</text>
<text class="n" x="1309" y="1842">100</text><text class="n" x="1309" y="1864">100</text><text class="n" x="1352" y="1907">100</text><text class="n" x="1338" y="1925">100</text>
<text class="n" x="1319" y="2002">100</text><text class="n" x="1309" y="2021">100</text><text class="n" x="1297" y="2041">98</text><text class="n" x="1293" y="2107">74</text>
<text class="n" x="1342" y="2109">81</text><text class="n" x="1305" y="2154">92</text><text class="n" x="1259" y="1807">100</text>
</g>
<g id="E-leaves">
<g id="E0"><text x="1356" y="1693">AGV22404_Parvo_like_hybrid_virus_UC12</text></g>
<g id="E1"><text x="1356" y="1717">AGV22413_Parvo_like_hybrid_virus_UC9</text></g>
<g id="E2"><text x="1356" y="1741">YP_008431133_Parvovirus_NIH_CQV</text></g>
<g id="E3"><text x="1356" y="1764">AGV22428_Parvo_like_hybrid_virus_UC4</text></g>
<g id="E4"><text x="1345" y="1788">MT138308_swa066par1</text><text class="s" x="1587" y="1790">Cygnus columbianus</text></g>
<g id="E5"><text x="1352" y="1812">MT138265_par077par1</text><text class="s" x="1593" y="1814">Lory，Lorikeet</text></g>
<g id="E6"><text x="1357" y="1836">MT138298_pst217par01</text><text class="s" x="1601" y="1838">Lophura nycthemera</text></g>
<g id="E7"><text x="1356" y="1860">QKK82940_Forsythia_suspensa_parvo_like_virus</text></g>
<g id="E8"><text x="1346" y="1883">QKK82938_Forsythia_suspensa_parvo_like_virus</text></g>
<g id="E9"><text x="1366" y="1907">MT138233_cra070par1</text><text class="s" x="1602" y="1909">Grus japonensis</text></g>
<g id="E10"><text x="1366" y="1931">MT138245_hbl169par4</text><text class="s" x="1602" y="1933">Phoenicurus auroreus</text></g>
<g id="E11"><text x="1365" y="1955">QKK82947_Trichosanthes_kirilowii_parvo_like_virus</text></g>
<g id="E12"><text x="1332" y="1979">YP_009142780_putativePhytophthora_parasitica_virus</text></g>
<g id="E13"><text x="1345" y="2002">MT138223_bsk136par02</text><text class="s" x="1601" y="2004">Lanius cristatus</text></g>
<g id="E14"><text x="1345" y="2026">MT138305_rtr167par2</text><text class="s" x="1578" y="2028">Luscinia sibilans</text></g>
<g id="E15"><text x="1346" y="2050">MT138264_par076par1</text><text class="s" x="1588" y="2052">Nandayus nenday</text></g>
<g id="E16"><text x="1334" y="2074">QKK82953_Lactuca_sativa_parvo_like_virus</text></g>
<g id="E17"><text x="1351" y="2098">MT138224_cat223par1</text><text class="s" x="1588" y="2100">Tragopan caboti</text></g>
<g id="E18"><text x="1352" y="2121">MT138244_hbl169par3</text><text class="s" x="1587" y="2123">Phoenicurus auroreus</text></g>
<g id="E19"><text x="1348" y="2145">QKK82950_Trichosanthes_kirilowii_parvo_like_virus</text></g>
<g id="E20"><text x="1335" y="2169">MT138239_fmg067par1</text><text class="s" x="1578" y="2171">Phoenicopteridae</text></g>
<g id="E-pavo"><text class="hb" x="1473" y="2204">Pavoviridae</text></g>
<g id="E-clade"><text class="hb sc" transform="translate(1843,1938) rotate(90)">Parvo-like hybrid virus</text></g>
</g>
</g>
</svg>
